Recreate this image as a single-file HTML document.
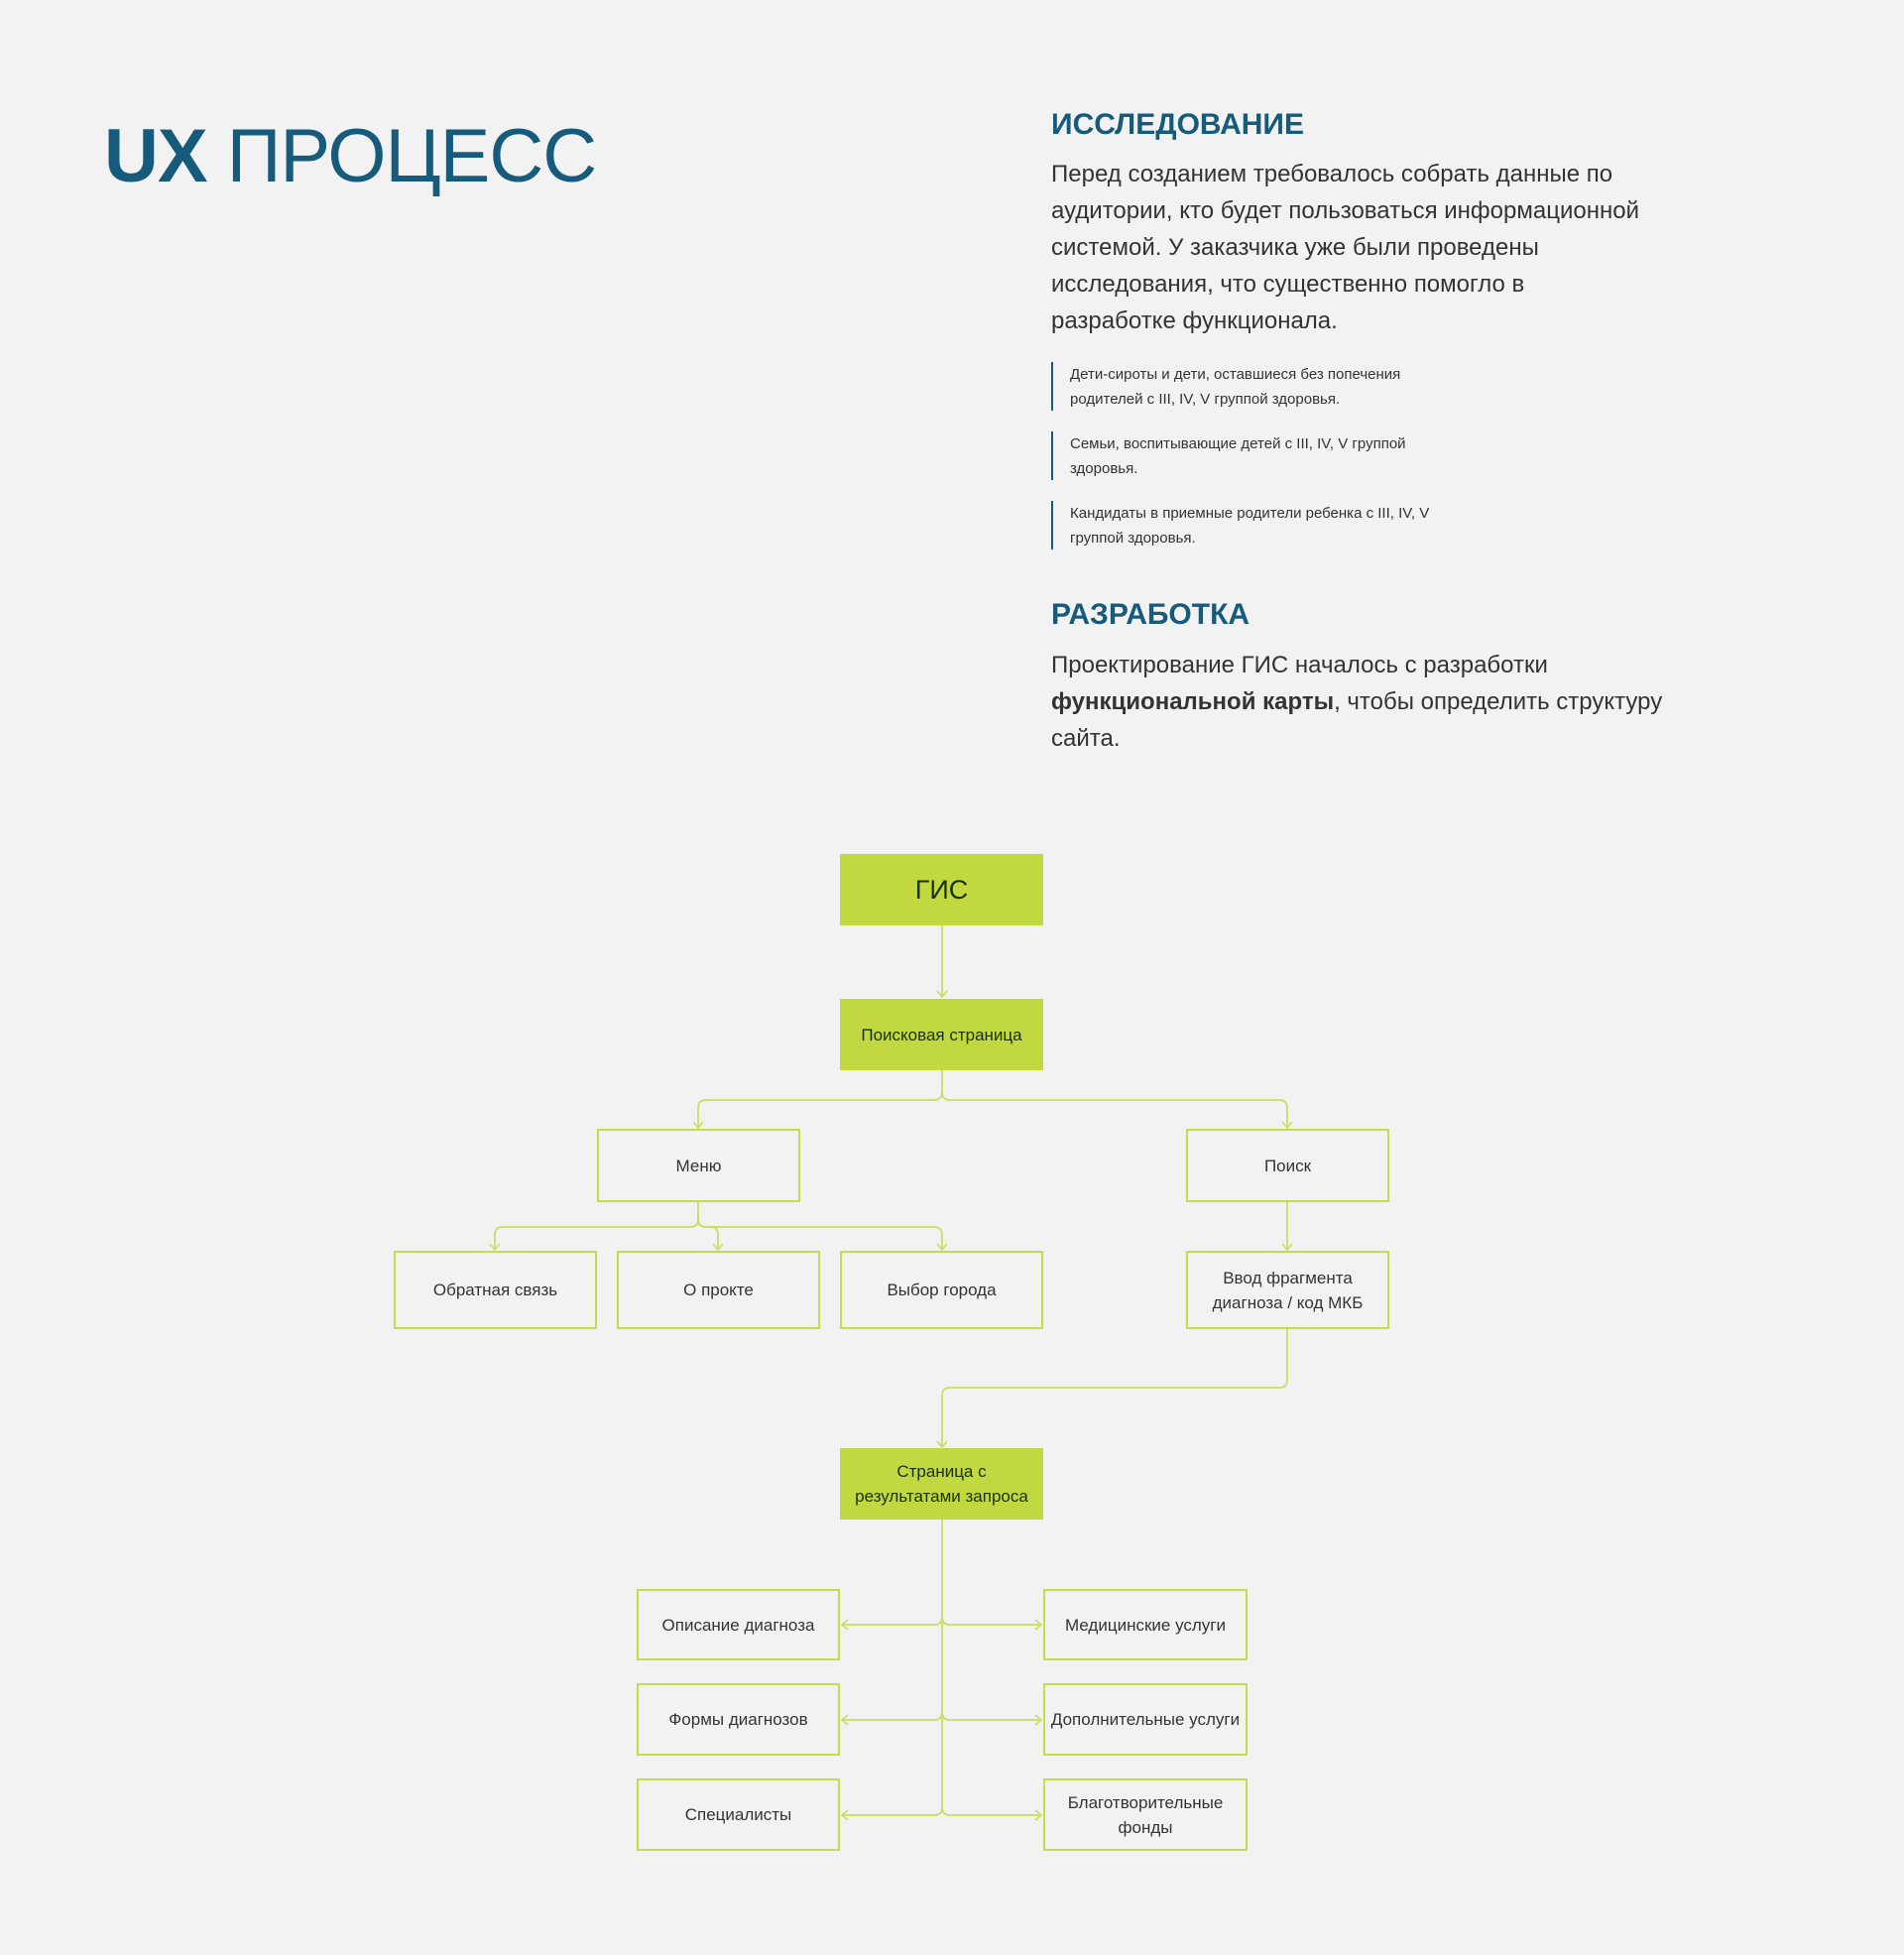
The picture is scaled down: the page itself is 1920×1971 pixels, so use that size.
<!DOCTYPE html>
<html><head><meta charset="utf-8"><style>
body{margin:0;width:1920px;height:1971px;background:#f2f2f2;position:relative;font-family:"Liberation Sans",sans-serif;overflow:hidden}
.a{position:absolute;white-space:nowrap}
h1{position:absolute;left:105px;top:120px;margin:0;font-size:76px;font-weight:400;color:#165a7c;line-height:1;letter-spacing:-1px}
h2{position:absolute;margin:0;font-size:30px;font-weight:700;color:#165a7c;line-height:1;left:1060px}
.p{position:absolute;left:1060px;font-size:24px;line-height:37px;color:#333;white-space:nowrap}
.q{position:absolute;left:1060px;border-left:2px solid #165a7c;padding-left:17px;font-size:15px;line-height:25px;color:#333;white-space:nowrap;height:49px;box-sizing:border-box;padding-top:0}
.b{position:absolute;box-sizing:border-box;border:2px solid #c6dc4a;display:flex;align-items:center;justify-content:center;text-align:center;font-size:17px;line-height:25px;color:#333}
.f{background:#c1d840;border-color:#c1d840;color:#1b3006}
</style></head><body>
<h1><b>UX</b> ПРОЦЕСС</h1>
<h2 style="top:111px">ИССЛЕДОВАНИЕ</h2>
<div class="p" style="top:157px">Перед созданием требовалось собрать данные по<br>аудитории, кто будет пользоваться информационной<br>системой. У заказчика уже были проведены<br>исследования, что существенно помогло в<br>разработке функционала.</div>
<div class="q" style="top:365px">Дети-сироты и дети, оставшиеся без попечения<br>родителей с III, IV, V группой здоровья.</div>
<div class="q" style="top:435px">Семьи, воспитывающие детей с III, IV, V группой<br>здоровья.</div>
<div class="q" style="top:505px">Кандидаты в приемные родители ребенка с III, IV, V<br>группой здоровья.</div>
<h2 style="top:605px">РАЗРАБОТКА</h2>
<div class="p" style="top:652px">Проектирование ГИС началось с разработки<br><b>функциональной карты</b>, чтобы определить структуру<br>сайта.</div>

<svg class="a" style="left:0;top:0" width="1920" height="1971" fill="none" stroke="#c9de60" stroke-width="1.8">
<path d="M950 933V1005"/>
<path d="M950 1079V1101q0 8-8 8H712q-8 0-8 8V1137"/>
<path d="M950 1101q0 8 8 8H1290q8 0 8 8V1137"/>
<path d="M704 1212V1229q0 8-8 8H507q-8 0-8 8V1260"/>
<path d="M704 1229q0 8 8 8H942q8 0 8 8V1260"/>
<path d="M704 1229q0 8 8 8h4q8 0 8 8V1260"/>
<path d="M1298 1212V1260"/>
<path d="M1298 1340V1391q0 8-8 8H958q-8 0-8 8V1459"/>
<path d="M950 1532V1822"/>
<path d="M950 1630q0 8-8 8H849M950 1630q0 8 8 8H1050"/>
<path d="M950 1726q0 8-8 8H849M950 1726q0 8 8 8H1050"/>
<path d="M950 1822q0 8-8 8H849M950 1822q0 8 8 8H1050"/>
<g stroke-width="1.6">
<path d="M945 999l5 6 5-6M699 1131l5 6 5-6M1293 1131l5 6 5-6M494 1254l5 6 5-6M719 1254l5 6 5-6M945 1254l5 6 5-6M1293 1254l5 6 5-6M945 1453l5 6 5-6"/>
<path d="M855 1633l-6 5 6 5M855 1729l-6 5 6 5M855 1825l-6 5 6 5"/>
<path d="M1044 1633l6 5-6 5M1044 1729l6 5-6 5M1044 1825l6 5-6 5"/>
</g>
</svg>

<div class="b f" style="left:847px;top:861px;width:205px;height:72px;font-size:27px">ГИС</div>
<div class="b f" style="left:847px;top:1007px;width:205px;height:72px">Поисковая страница</div>
<div class="b" style="left:602px;top:1138px;width:205px;height:74px">Меню</div>
<div class="b" style="left:1196px;top:1138px;width:205px;height:74px">Поиск</div>
<div class="b" style="left:397px;top:1261px;width:205px;height:79px">Обратная связь</div>
<div class="b" style="left:622px;top:1261px;width:205px;height:79px">О прокте</div>
<div class="b" style="left:847px;top:1261px;width:205px;height:79px">Выбор города</div>
<div class="b" style="left:1196px;top:1261px;width:205px;height:79px">Ввод фрагмента<br>диагноза / код МКБ</div>
<div class="b f" style="left:847px;top:1460px;width:205px;height:72px">Страница с<br>результатами запроса</div>
<div class="b" style="left:642px;top:1602px;width:205px;height:72px">Описание диагноза</div>
<div class="b" style="left:642px;top:1697px;width:205px;height:73px">Формы диагнозов</div>
<div class="b" style="left:642px;top:1793px;width:205px;height:73px">Специалисты</div>
<div class="b" style="left:1052px;top:1602px;width:206px;height:72px">Медицинские услуги</div>
<div class="b" style="left:1052px;top:1697px;width:206px;height:73px">Дополнительные услуги</div>
<div class="b" style="left:1052px;top:1793px;width:206px;height:73px">Благотворительные<br>фонды</div>
</body></html>
